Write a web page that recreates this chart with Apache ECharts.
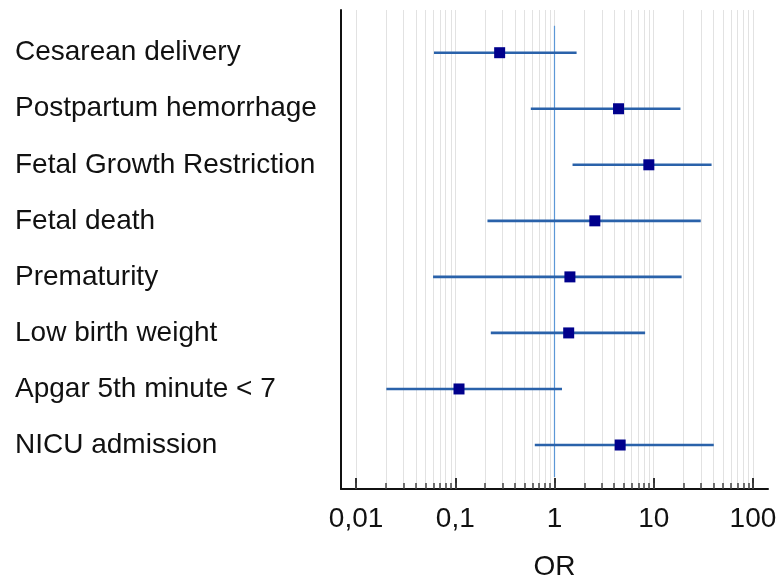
<!DOCTYPE html>
<html>
<head>
<meta charset="utf-8">
<script src="https://cdn.jsdelivr.net/npm/echarts@6/dist/echarts.min.js"></script>
<style>
html,body{margin:0;padding:0;background:#fff;}
#chart{width:777px;height:579px;}
</style>
</head>
<body>
<div id="chart"></div>
<script>
// ---- data ----
const categories = ["Cesarean delivery","Postpartum hemorrhage","Fetal Growth Restriction","Fetal death","Prematurity","Low birth weight","Apgar 5th minute < 7","NICU admission"];
const orValues = [0.28, 4.42, 8.93, 2.55, 1.43, 1.39, 0.109, 4.59];
const ciLow    = [0.061, 0.577, 1.52, 0.211, 0.0597, 0.228, 0.0202, 0.633];
const ciHigh   = [1.67, 18.6, 38.3, 29.8, 19.1, 8.19, 1.19, 40.3];
const majorTickValues = [0.01, 0.1, 1, 10, 100];
const majorTickLabels = ["0,01", "0,1", "1", "10", "100"];
const minorMultipliers = [1,2,3,4,5,6,7,8,9];
const decades = [0.01, 0.1, 1, 10, 100];
const referenceOR = 1;

// ---- derived (log10 space) ----
const LOG_MIN = -2.152, LOG_MAX = 2.152;
const lg = v => Math.log10(v);
const majorLog = majorTickValues.map(lg);
const gridLog = [];
decades.forEach(d => minorMultipliers.forEach(k => {
  const l = lg(k * d);
  if (l >= -2 - 1e-9 && l <= 2 + 1e-9) gridLog.push(l);
}));
const rows = categories.map((c, i) => i + 1);
const labelFor = v => {
  const idx = majorLog.findIndex(m => Math.abs(m - v) < 1e-6);
  return idx >= 0 ? majorTickLabels[idx] : '';
};

const FONT = '"Liberation Sans", Arial, sans-serif';
const TXT = '#111111';
const FS = 28;

const chart = echarts.init(document.getElementById('chart'), null, {renderer: 'canvas'});
chart.setOption({
  animation: false,
  backgroundColor: '#ffffff',
  grid: {left: 341, right: 9, top: 10, bottom: 90, containLabel: false, outerBoundsMode: 'none'},
  xAxis: [
    {
      type: 'value', min: LOG_MIN, max: LOG_MAX, position: 'bottom',
      name: 'OR', nameLocation: 'middle', nameGap: 64,
      nameTextStyle: {fontFamily: FONT, fontSize: FS, color: TXT},
      axisLine: {show: true, onZero: false, lineStyle: {color: '#111', width: 2}},
      axisTick: {show: true, inside: true, length: 11, customValues: majorLog, lineStyle: {color: '#333', width: 2}},
      axisLabel: {show: true, customValues: majorLog, margin: 16, formatter: labelFor,
        fontFamily: FONT, fontSize: FS, color: TXT},
      splitLine: {show: false}
    },
    {
      type: 'value', min: LOG_MIN, max: LOG_MAX, position: 'bottom',
      axisLine: {show: false, onZero: false},
      axisTick: {show: true, inside: true, length: 6, customValues: gridLog, lineStyle: {color: '#444', width: 1.5}},
      axisLabel: {show: false},
      splitLine: {show: true, lineStyle: {color: '#e2e2e2', width: 1}}
    }
  ],
  yAxis: {
    type: 'value', inverse: true, min: 0.238, max: 8.785,
    axisLine: {show: true, onZero: false, lineStyle: {color: '#111', width: 2}},
    axisTick: {show: false},
    splitLine: {show: false},
    axisLabel: {show: true, customValues: rows, margin: 326, align: 'left',
      formatter: v => categories[Math.round(v) - 1] || '',
      fontFamily: FONT, fontSize: FS, color: TXT}
  },
  series: [
    {
      type: 'custom',
      xAxisIndex: 0,
      z: 2,
      data: [[lg(referenceOR), 0.52, 8.57]],
      renderItem: (params, api) => {
        const p1 = api.coord([api.value(0), api.value(1)]);
        const p2 = api.coord([api.value(0), api.value(2)]);
        return {type: 'line', shape: {x1: p1[0], y1: p1[1], x2: p2[0], y2: p2[1]},
          style: {stroke: '#5b97d6', lineWidth: 1.2}};
      }
    },
    {
      type: 'custom',
      xAxisIndex: 0,
      z: 3,
      data: rows.map((r, i) => [lg(ciLow[i]), lg(ciHigh[i]), r]),
      renderItem: (params, api) => {
        const p1 = api.coord([api.value(0), api.value(2)]);
        const p2 = api.coord([api.value(1), api.value(2)]);
        return {type: 'line', shape: {x1: p1[0], y1: p1[1], x2: p2[0], y2: p2[1]},
          style: {stroke: '#2a62aa', lineWidth: 2.6}};
      }
    },
    {
      type: 'scatter',
      xAxisIndex: 0,
      z: 4,
      symbol: 'rect',
      symbolSize: 11,
      itemStyle: {color: '#00008c', opacity: 1},
      data: rows.map((r, i) => [lg(orValues[i]), r])
    }
  ]
});
</script>
</body>
</html>
